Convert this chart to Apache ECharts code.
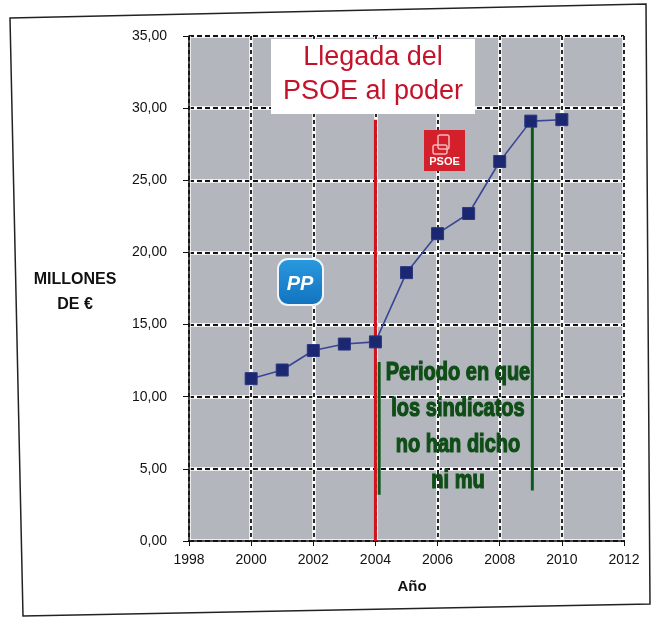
<!DOCTYPE html>
<html>
<head>
<meta charset="utf-8">
<script src="https://cdn.jsdelivr.net/npm/echarts@6/dist/echarts.min.js"></script>
<style>
html,body{margin:0;padding:0;background:#fff;}
#chart{width:653px;height:617px;}
</style>
</head>
<body>
<div id="chart"></div>
<script>
// ---- data ----
var years = [2000, 2001, 2002, 2003, 2004, 2005, 2006, 2007, 2008, 2009, 2010];
var millones = [11.25, 11.85, 13.2, 13.65, 13.8, 18.6, 21.3, 22.7, 26.3, 29.1, 29.2];
var redLine = [[2004, 0], [2004, 29.2]];
var greenLine1 = [[2004.12, 3.2], [2004.12, 12.4]];
var greenLine2 = [[2009.05, 3.5], [2009.05, 29.1]];
var yTicks = [0, 5, 10, 15, 20, 25, 30, 35];
var xTicks = [1998, 2000, 2002, 2004, 2006, 2008, 2010, 2012];
var yName = ['MILLONES', 'DE €'];
var xName = 'Año';
var titleLines = ['Llegada del', 'PSOE al poder'];
var noteLines = ['Periodo en que', 'los sindicatos', 'no han dicho', 'ni mu'];

function pair(d){ return years.map(function(y,i){ return [y, d[i]]; }); }
function fmt(v){ return v.toFixed(2).replace('.', ','); }

var chart = echarts.init(document.getElementById('chart'));
var GRID = {left: 189, right: 29, top: 36, bottom: 76};
var bg = '#b4b6be';

var xBase = {type: 'value', min: xTicks[0], max: xTicks[xTicks.length-1], interval: 2};
var yBase = {type: 'value', min: yTicks[0], max: yTicks[yTicks.length-1], interval: 5};

var option = {
  animation: false,
  backgroundColor: '#fff',
  grid: Object.assign({show: true, backgroundColor: bg, borderWidth: 0}, GRID),
  xAxis: [
    Object.assign({}, xBase, {
      axisLine: {show: true, onZero: false, lineStyle: {color: '#111', width: 1.5}},
      axisTick: {show: true, length: 5, lineStyle: {color: '#111'}},
      axisLabel: {color: '#111', fontFamily: 'Liberation Sans, Arial', fontSize: 14, margin: 12,
        formatter: function(v){ return String(v); }},
      splitLine: {show: true, lineStyle: {color: '#fff', width: 3.5}}
    }),
    Object.assign({}, xBase, {
      position: 'bottom',
      axisLine: {show: false}, axisTick: {show: false}, axisLabel: {show: false},
      splitLine: {show: true, lineStyle: {color: '#111', width: 1.8, type: [4, 3]}}
    })
  ],
  yAxis: [
    Object.assign({}, yBase, {
      axisLine: {show: true, onZero: false, lineStyle: {color: '#111', width: 1.5}},
      axisTick: {show: true, length: 6, lineStyle: {color: '#111'}},
      axisLabel: {color: '#111', fontFamily: 'Liberation Sans, Arial', fontSize: 14, margin: 22, formatter: fmt},
      splitLine: {show: true, lineStyle: {color: '#fff', width: 3.5}}
    }),
    Object.assign({}, yBase, {
      position: 'left',
      axisLine: {show: false}, axisTick: {show: false}, axisLabel: {show: false},
      splitLine: {show: true, lineStyle: {color: '#111', width: 1.8, type: [5, 3]}}
    })
  ],
  series: [
    {
      type: 'line', data: redLine, symbol: 'none', z: 3,
      lineStyle: {color: '#d4121e', width: 3}
    },
    {
      type: 'line', data: greenLine1, symbol: 'none', z: 3,
      lineStyle: {color: '#0e5a1e', width: 3}
    },
    {
      type: 'line', data: greenLine2, symbol: 'none', z: 3,
      lineStyle: {color: '#0e5a1e', width: 3}
    },
    {
      type: 'line', data: pair(millones), z: 5,
      symbol: 'rect', symbolSize: 12,
      itemStyle: {color: '#1b2770', borderColor: '#2a3680', borderWidth: 1},
      lineStyle: {color: '#3a4595', width: 1.6}
    }
  ],
  graphic: []
};
chart.setOption(option);

var g = [];
// scan frame
g.push({type: 'polygon', silent: true, z: 0,
  shape: {points: [[10, 18], [646, 4], [650, 604], [23, 616]]},
  style: {fill: 'none', stroke: '#222', lineWidth: 1.5}});
// title box
g.push({type: 'rect', z: 20, shape: {x: 271, y: 39, width: 204, height: 75},
  style: {fill: '#fff'}});
titleLines.forEach(function(t, i){
  g.push({type: 'text', z: 21, x: 373, y: 58 + i * 34,
    style: {text: t, fill: '#c4122a', font: '27px "Liberation Sans", Arial',
      textAlign: 'center', textVerticalAlign: 'middle'}});
});
// PP logo
g.push({type: 'rect', z: 20, shape: {x: 278, y: 259, width: 45, height: 46, r: 10},
  style: {fill: new echarts.graphic.LinearGradient(0, 0, 0, 1, [
    {offset: 0, color: '#2a9ae0'}, {offset: 1, color: '#1272bd'}]),
    stroke: '#eef4fa', lineWidth: 2}});
g.push({type: 'text', z: 21, x: 300, y: 284,
  style: {text: 'PP', fill: '#fff', font: 'italic bold 20px "Liberation Sans", Arial',
    textAlign: 'center', textVerticalAlign: 'middle'}});
// PSOE logo
g.push({type: 'rect', z: 20, shape: {x: 424, y: 130, width: 41, height: 41},
  style: {fill: '#d3202b'}});
g.push({type: 'rect', z: 21, shape: {x: 438, y: 135, width: 11, height: 14, r: 2},
  style: {fill: 'none', stroke: '#f3b7bc', lineWidth: 1.5}});
g.push({type: 'rect', z: 21, shape: {x: 433, y: 145, width: 14, height: 9, r: 2},
  style: {fill: 'none', stroke: '#f3b7bc', lineWidth: 1.5}});
g.push({type: 'text', z: 21, x: 444.5, y: 162,
  style: {text: 'PSOE', fill: '#fff', font: 'bold 11px "Liberation Sans", Arial',
    textAlign: 'center', textVerticalAlign: 'middle'}});
// green note (condensed, heavy)
noteLines.forEach(function(t, i){
  g.push({type: 'text', z: 22, x: 458, y: 373 + i * 36, scaleX: 0.8,
    style: {text: t, fill: '#0f4d17', stroke: '#0f4d17', lineWidth: 1.2,
      font: 'bold 25px "Liberation Sans", Arial',
      textAlign: 'center', textVerticalAlign: 'middle'}});
});
// axis names
yName.forEach(function(t, i){
  g.push({type: 'text', z: 21, x: 75, y: 280 + i * 25,
    style: {text: t, fill: '#111', font: 'bold 16px "Liberation Sans", Arial',
      textAlign: 'center', textVerticalAlign: 'middle'}});
});
g.push({type: 'text', z: 21, x: 412, y: 587,
  style: {text: xName, fill: '#111', font: 'bold 15px "Liberation Sans", Arial',
    textAlign: 'center', textVerticalAlign: 'middle'}});

chart.setOption({graphic: g});
</script>
</body>
</html>
